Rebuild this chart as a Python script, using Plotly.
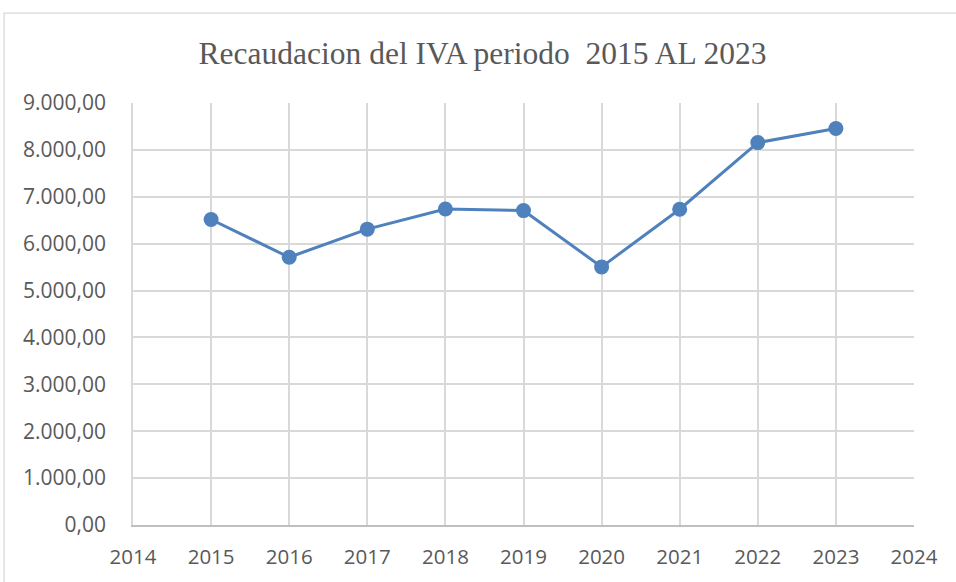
import plotly.graph_objects as go

years = [2015, 2016, 2017, 2018, 2019, 2020, 2021, 2022, 2023]
recaudacion = [6515, 5710, 6310, 6740, 6705, 5505, 6735, 8155, 8455]
title_text = "Recaudacion del IVA periodo\u00a0 2015 AL 2023"

grid = "#d9d9d9"
txt = "#595959"
blue = "#4f81bd"

W, H = 956, 582
L = 133
T = 102.7
R = W - 914.5
B = H - 525
pw = W - L - R
ph = H - T - B

fig = go.Figure()
fig.add_trace(go.Scatter(
    x=years, y=recaudacion, mode="lines+markers",
    line=dict(color=blue, width=3),
    marker=dict(color=blue, size=15),
    showlegend=False, hoverinfo="x+y",
))

fig.update_layout(
    width=W, height=H,
    margin=dict(l=L, r=R, t=T, b=B, pad=0),
    paper_bgcolor="white", plot_bgcolor="white",
    separators=",.",
    title=dict(text=title_text, x=482.5 / W, xanchor="center", xref="container",
               y=1 - 52.5 / H, yanchor="middle",
               font=dict(family="Liberation Serif", size=31.5, color=txt)),
    font=dict(family="Open Sans", color=txt),
    shapes=[dict(type="rect", xref="paper", yref="paper",
                 x0=(4 - L) / pw, x1=(975 - L) / pw,
                 y0=(H - B - 620) / ph, y1=(H - B - 12.7) / ph,
                 line=dict(color="#d9d9d9", width=1.3), fillcolor="rgba(0,0,0,0)", layer="below")],
)
fig.update_xaxes(
    range=[2014, 2024], dtick=1, tick0=2014,
    showgrid=True, gridcolor=grid, gridwidth=1.5,
    showline=True, linecolor="#bfbfbf", linewidth=1.5, mirror=False,
    zeroline=False, ticks="",
    tickfont=dict(family="Open Sans", size=20.5, color=txt),
    ticklabelstandoff=13,
)
fig.update_yaxes(
    range=[0, 9000], dtick=1000, tick0=0,
    tickformat=",.2f",
    showgrid=True, gridcolor=grid, gridwidth=1.5,
    showline=True, linecolor=grid, linewidth=1.5,
    zeroline=False, ticks="",
    tickfont=dict(family="Open Sans", size=21, color=txt),
    ticklabelstandoff=21,
)
fig.write_html("out.html", config={"displayModeBar": False},
               post_script="document.body.style.margin='0';document.body.style.overflow='hidden';")
